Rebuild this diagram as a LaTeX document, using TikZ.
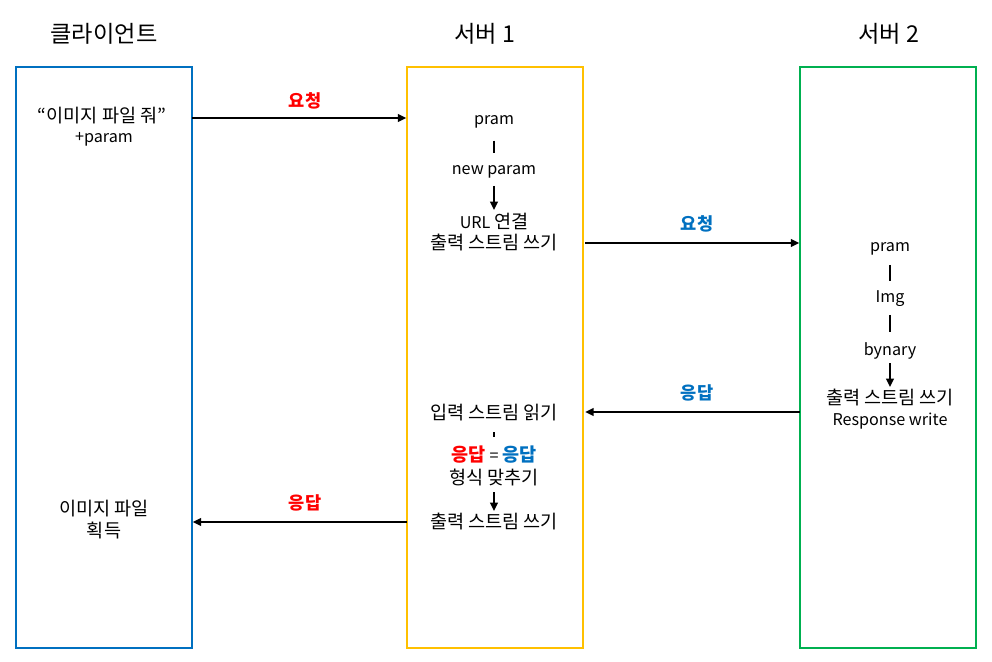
\documentclass[tikz,border=0pt]{standalone}
\usepackage{fontspec}
\setmainfont{Noto Sans CJK KR}
\usetikzlibrary{arrows.meta}
\definecolor{cliblue}{HTML}{0070C0}
\definecolor{srvyellow}{HTML}{FFC000}
\definecolor{srvgreen}{HTML}{00B050}
\definecolor{reqred}{HTML}{FF0000}
\newcommand{\kr}{\fontsize{13.2}{15}\selectfont}
\tikzset{
	box/.style={draw, line width=1.3pt, inner sep=0pt, outer sep=0pt, minimum width=4.4cm, minimum height=14.525cm},
	title/.style={font=\fontsize{16.5}{19}\selectfont},
	txt/.style={font=\fontsize{11.5}{14}\selectfont, inner sep=0pt, minimum height=0.5cm},
	krtxt/.style={txt, font=\kr},
	lbl/.style={font=\fontsize{12.5}{15}\selectfont\bfseries, inner sep=0pt},
	link/.style={line width=1.4pt, shorten <=5pt, shorten >=5.5pt},
	flow/.style={line width=1.3pt, -{Triangle[length=6pt, width=5.5pt]}, shorten <=1.5pt, shorten >=0.5pt}
}

\begin{document}
\begin{tikzpicture}[x=0.025cm, y=-0.025cm]
	%%%%% START %%%%%
	\useasboundingbox (0, 0) rectangle (992, 662);
	
	\node[title] (clititle) at (104, 34) {클라이언트};
	\node[title] (s1title) at (485, 34) {서버 1};
	\node[title] (s2title) at (889, 34) {서버 2};
	
	\node[box, draw=cliblue] (client) at (104, 357.5) {};
	\node[box, draw=srvyellow] (srv1) at (495, 357.5) {};
	\node[box, draw=srvgreen] (srv2) at (888, 357.5) {};
	
	% client
	\node[krtxt] (cligive) at (102, 116) {“이미지 파일 줘”};
	\node[txt] (cliparam) at (104, 139) {+param};
	\node[krtxt] (cliget) at (104, 509) {이미지 파일};
	\node[krtxt] (cligot) at (104, 531) {획득};
	
	% server 1
	\node[txt] (s1pram) at (494, 122) {pram};
	\node[txt] (s1new) at (494, 172) {new param};
	\node[txt] (s1url) at (494, 221) {URL {\kr 연결}};
	\node[krtxt] (s1out) at (494, 243) {출력 스트림 쓰기};
	\node[krtxt] (s1in) at (494, 413) {입력 스트림 읽기};
	\node[krtxt] (s1eq) at (494, 455) {\textcolor{reqred}{\bfseries 응답} {\fontsize{11.5}{14}\selectfont =} \textcolor{cliblue}{\bfseries 응답}};
	\node[krtxt] (s1fmt) at (494, 477) {형식 맞추기};
	\node[krtxt] (s1back) at (494, 522) {출력 스트림 쓰기};
	
	\draw[link, shorten <=6pt, shorten >=6.5pt] (s1pram) -- (s1new);
	\draw[flow, shorten <=2.5pt] (s1new) -- (s1url);
	\draw[link, shorten <=6.4pt, shorten >=5.7pt] (s1in) -- (s1eq);
	\draw[flow, shorten <=3.6pt] (s1fmt) -- (s1back);
	
	% server 2
	\node[txt] (s2pram) at (890, 249) {pram};
	\node[txt] (s2img) at (890, 299) {Img};
	\node[txt] (s2bin) at (890, 351) {bynary};
	\node[krtxt] (s2out) at (890, 398) {출력 스트림 쓰기};
	\node[txt] (s2resp) at (890, 421) {Response write};
	
	\draw[link, shorten <=4pt] (s2pram) -- (s2img);
	\draw[link, shorten <=4pt, shorten >=6.5pt] (s2img) -- (s2bin);
	\draw[flow, shorten <=1.5pt] (s2bin) -- (s2out);
	
	% requests and responses
	\draw[flow, shorten <=0pt] (client.east |- 0, 118) -- (srv1.west |- 0, 118);
	\node[lbl, text=reqred] (req1) at (305, 101) {요청};
	\draw[flow] (srv1.east |- s1out) -- (srv2.west |- s1out);
	\node[lbl, text=cliblue] (req2) at (697, 224) {요청};
	\draw[flow, shorten <=0pt, shorten >=1.5pt] (srv2.west |- 0, 412) -- (srv1.east |- 0, 412);
	\node[lbl, text=cliblue] (resp2) at (697, 393) {응답};
	\draw[flow, shorten <=0pt] (srv1.west |- s1back) -- (client.east |- s1back);
	\node[lbl, text=reqred] (resp1) at (305, 503) {응답};
	%%%%% END %%%%%
\end{tikzpicture}
\end{document}
